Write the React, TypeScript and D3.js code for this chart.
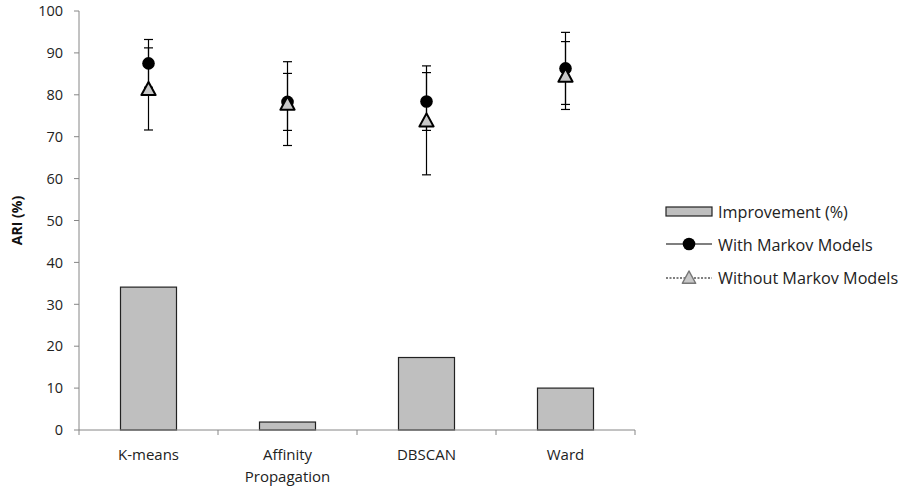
import React from "react";
import * as d3 from "d3";

const categories = ["K-means", "Affinity Propagation", "DBSCAN", "Ward"];
const improvement = [34.1, 1.9, 17.3, 10.0];
const withMarkov = [87.5, 78.3, 78.4, 86.3];
const withMarkovErr = [5.7, 6.8, 6.9, 8.6];
const withoutMarkov = [81.4, 77.9, 73.9, 84.6];
const withoutMarkovErr = [9.8, 10.0, 13.0, 8.1];
const yTicks = [0, 10, 20, 30, 40, 50, 60, 70, 80, 90, 100];

const W = 901;
const H = 488;
const left = 79;
const right = 635;
const top = 11;
const bottom = 430;
const font = "'Open Sans', sans-serif";
const axisColor = "#868686";

export default function App() {
  const x = d3.scaleBand<string>().domain(categories).range([left, right]).padding(0);
  const y = d3.scaleLinear().domain([0, 100]).range([bottom, top]);
  const bw = 56;
  const cx = (c: string) => (x(c) as number) + x.bandwidth() / 2;
  const capW = 4.5;
  const tri = (px: number, py: number, s: number) =>
    `M${px},${py - s} L${px + s * 0.95},${py + s * 0.75} L${px - s * 0.95},${py + s * 0.75} Z`;

  const errBar = (px: number, v: number, e: number, key: string) => {
    const y1 = y(v + e);
    const y2 = y(v - e);
    return (
      <g key={key} stroke="#000" strokeWidth={1.2}>
        <line x1={px} x2={px} y1={y1} y2={y2} />
        <line x1={px - capW} x2={px + capW} y1={y1} y2={y1} />
        <line x1={px - capW} x2={px + capW} y1={y2} y2={y2} />
      </g>
    );
  };

  return (
    <svg
      width={W}
      height={H}
      style={{ position: "absolute", left: 0, top: 0, background: "#fff" }}
      fontFamily={font}
    >
      {/* y axis */}
      <line x1={left} x2={left} y1={top} y2={bottom} stroke={axisColor} strokeWidth={1} />
      {yTicks.map((t) => (
        <g key={t}>
          <line x1={left - 5} x2={left} y1={y(t)} y2={y(t)} stroke={axisColor} />
          <text x={63} y={y(t)} dy="0.36em" textAnchor="end" fontSize={14.5} fill="#222">
            {t}
          </text>
        </g>
      ))}
      <text
        transform={`translate(22,${(top + bottom) / 2}) rotate(-90)`}
        textAnchor="middle"
        fontSize={14}
        fontWeight="bold"
        fill="#111"
      >
        ARI (%)
      </text>

      {/* bars */}
      {categories.map((c, i) => (
        <rect
          key={c}
          x={cx(c) - bw / 2}
          y={y(improvement[i])}
          width={bw}
          height={bottom - y(improvement[i])}
          fill="#bfbfbf"
          stroke="#222"
          strokeWidth={1.2}
        />
      ))}

      {/* x axis */}
      <line x1={left} x2={right} y1={bottom} y2={bottom} stroke={axisColor} />
      {[...categories.map((c) => x(c) as number), right].map((px, i) => (
        <line key={i} x1={px} x2={px} y1={bottom} y2={bottom + 5} stroke={axisColor} />
      ))}
      {categories.map((c) => {
        const words = c === "Affinity Propagation" ? ["Affinity", "Propagation"] : [c];
        return (
          <text key={c} x={cx(c)} y={460} textAnchor="middle" fontSize={15} fill="#222">
            {words.map((w, j) => (
              <tspan key={j} x={cx(c)} dy={j === 0 ? 0 : 22}>
                {w}
              </tspan>
            ))}
          </text>
        );
      })}

      {/* error bars */}
      {categories.map((c, i) => errBar(cx(c), withMarkov[i], withMarkovErr[i], "w" + i))}
      {categories.map((c, i) => errBar(cx(c), withoutMarkov[i], withoutMarkovErr[i], "wo" + i))}

      {/* markers */}
      {categories.map((c, i) => (
        <circle key={"c" + i} cx={cx(c)} cy={y(withMarkov[i])} r={6.3} fill="#000" />
      ))}
      {categories.map((c, i) => (
        <path
          key={"t" + i}
          d={tri(cx(c), y(withoutMarkov[i]) + 0.5, 7.5)}
          fill="#c8c8c8"
          stroke="#000"
          strokeWidth={2}
          strokeLinejoin="round"
        />
      ))}

      {/* legend */}
      <rect x={666} y={207} width={46} height={9} fill="#bfbfbf" stroke="#222" strokeWidth={1.2} />
      <text x={718} y={212} dy="0.36em" fontSize={16.2} fill="#222">
        Improvement (%)
      </text>
      <line x1={666} x2={712} y1={244} y2={244} stroke="#000" strokeWidth={1.2} />
      <circle cx={689} cy={244} r={6.3} fill="#000" />
      <text x={718} y={245} dy="0.36em" fontSize={16.2} fill="#222">
        With Markov Models
      </text>
      <line x1={666} x2={712} y1={278} y2={278} stroke="#000" strokeWidth={1} strokeDasharray="2,1.5" />
      <path d={tri(689, 278, 7)} fill="#c8c8c8" stroke="#777" strokeWidth={1.5} strokeLinejoin="round" />
      <text x={718} y={278} dy="0.36em" fontSize={16.2} fill="#222">
        Without Markov Models
      </text>
    </svg>
  );
}
